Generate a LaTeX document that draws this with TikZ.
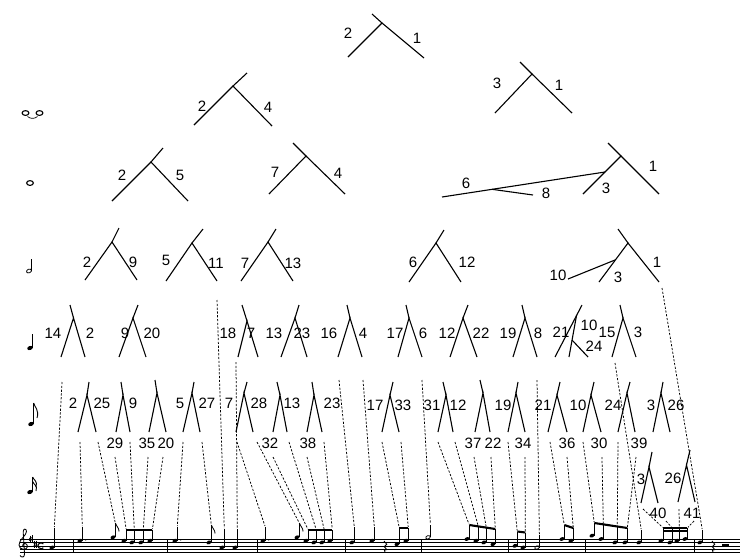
\documentclass[tikz,border=0pt]{standalone}
\usepackage{fontspec}
\setmainfont{Liberation Sans}
\usetikzlibrary{calc}
\newcounter{labc}
\tikzset{
  tl/.style={line width=1.1pt},
  dl/.style={line width=0.75pt, dash pattern=on 2.2pt off 1.6pt, shorten >=1pt},
  lb/.style={inner sep=0pt, font=\fontsize{15}{15}\selectfont},
  stm/.style={line width=0.65pt},
  bm/.style={line width=2.1pt},
  stf/.style={line width=0.6pt},
  icon/.style={line width=1.1pt},
}
\newcommand\mytree[5]{%
  \coordinate (#1j) at (#2); \coordinate (#1l) at (#3);
  \coordinate (#1r) at (#4); \coordinate (#1s) at (#5);
  \draw[tl] (#1l) -- (#1j) -- (#1r); \draw[tl] (#1j) -- (#1s);}
\newcommand\mylab[2]{\stepcounter{labc}\node[lb] (lab\arabic{labc}) at (#1) {#2};}
\newcommand\mynote[4]{%
  \pgfmathsetmacro\nyy{539+1.7*#3}%
  \fill[rotate around={22:(#2,\nyy)}] (#2,\nyy) ellipse (2.6pt and 1.8pt);
  \coordinate (#1) at (#2+2.3,#4);
  \draw[stm] (#2+2.3,\nyy) -- (#1);}
\newcommand\myhalf[4]{%
  \pgfmathsetmacro\nyy{539+1.7*#3}%
  \draw[line width=0.75pt, rotate around={22:(#2,\nyy)}] (#2,\nyy) ellipse (2.3pt and 1.6pt);
  \coordinate (#1) at (#2+2.4,#4);
  \draw[stm] (#2+2.4,\nyy) -- (#1);}
\newcommand\myflag[1]{\draw[line width=0.8pt] (#1) .. controls +(0.5,3) and +(0,-4) .. +(3.8,8.5);}
\newcommand\mydot[2]{\fill (#1+5.8,{539+1.7*#2-0.9}) circle (0.75pt);}
\newcommand\mydash[3]{\coordinate (#1) at (#2); \draw[dl] (#1) -- (#3);}
\newcommand\mysharp[2]{%
  \draw[line width=0.45pt] (#1-0.8,#2-3.4) -- (#1-0.8,#2+3.6) (#1+0.8,#2-3.6) -- (#1+0.8,#2+3.4);
  \draw[line width=0.9pt] (#1-1.8,#2-0.6) -- (#1+1.8,#2-1.4) (#1-1.8,#2+1.4) -- (#1+1.8,#2+0.6);}
\begin{document}
\begin{tikzpicture}[x=1pt,y=-1pt]
\useasboundingbox (0,0) rectangle (740,558);
\fill[white] (0,0) rectangle (740,558);

% ---------- trees ----------
% level 0
\mytree{ta}{382,23}{348,57}{424,58}{372,14}
% level 1
\mytree{tb}{233,86}{194,125}{272,126}{247,73}
\mytree{tc}{532,74}{495,113}{572,113}{520,62}
% level 2
\mytree{td}{151,162}{112,201}{188,201}{163,148}
\mytree{te}{306,156}{269,194}{345,194}{293,143}
\mytree{tf}{621,156}{583,194}{659,194}{608,143}
\coordinate (tfp) at (605,172); \coordinate (tfq) at (492,189.3);
\coordinate (tf6) at (442,197); \coordinate (tf8) at (533,195);
\draw[tl] (tfp) -- (tf6); \draw[tl] (tfq) -- (tf8);
% level 3
\mytree{tg}{112,242}{85,280}{137,280}{119,228}
\mytree{th}{192,243}{166,281}{217,281}{203,229}
\mytree{ti}{268,242}{241,281}{293,281}{276,229}
\mytree{tj}{436,243}{409,282}{461,282}{444,230}
\mytree{tk}{628,243}{599,282}{659,282}{618,229}
\coordinate (tkp) at (615,260); \coordinate (tk10) at (568,279);
\draw[tl] (tkp) -- (tk10);
% level 4 (quarter)
\mytree{q1}{73.5,318}{61,357}{85,357}{70,305}
\mytree{q2}{133,318}{119,357}{146,357}{138,305}
\mytree{q3}{247,321}{238,357}{258,357}{242,305}
\mytree{q4}{295,318}{281,357}{307,357}{299,305}
\mytree{q5}{350,318}{338,357}{362,357}{347,305}
\mytree{q6}{409,318}{398,357}{422,357}{406,305}
\mytree{q7}{463,318}{450,357}{477,357}{468,305}
\mytree{q8}{525,318}{513,357}{537,357}{522,305}
\coordinate (q9a) at (555,357); \coordinate (q9s) at (582,305);
\coordinate (q9b) at (569,357); \coordinate (q9j) at (576.6,315);
\coordinate (q9c) at (572,340); \coordinate (q9d) at (588,357);
\draw[tl] (q9a) -- (q9s); \draw[tl] (q9b) -- (q9j); \draw[tl] (q9c) -- (q9d);
\mytree{q10}{623,318}{612,357}{636,357}{620,305}
% level 5 (eighth)
\mytree{e1}{87,395}{78,432}{96,432}{89,382}
\mytree{e2}{123,395}{116,432}{130,432}{121,382}
\mytree{e3}{157,393}{149,432}{166,432}{155,380}
\mytree{e4}{192,393}{183,432}{200,432}{194,382}
\mytree{e5}{244,393}{236,432}{253,432}{247,382}
\mytree{e6}{280,395}{273,432}{287,432}{277,382}
\mytree{e7}{314,395}{307,432}{322,432}{312,382}
\mytree{e8}{390,395}{382,432}{399,432}{393,382}
\mytree{e9}{446,395}{438,432}{453,432}{443,382}
\mytree{e10}{483,393}{475,432}{490,432}{480,380}
\mytree{e11}{516,393}{508,432}{525,432}{518,382}
\mytree{e12}{557,395}{548,432}{567,432}{560,382}
\mytree{e13}{591,395}{583,432}{601,432}{594,382}
\mytree{e14}{627,393}{618,432}{635,432}{630,382}
\mytree{e15}{661,393}{653,432}{670,432}{663,382}
% level 6 (sixteenth)
\mytree{s1}{649,467}{641,503}{658,503}{652,452}
\mytree{s2}{686.5,465}{678,502}{695,502}{690,450}

% ---------- labels ----------
\mylab{348,33}{2} \mylab{417,38}{1}
\mylab{202,106}{2} \mylab{268,107}{4} \mylab{497,83}{3} \mylab{559,85}{1}
\mylab{122,175}{2} \mylab{180,175}{5} \mylab{275,172}{7} \mylab{338,173}{4}
\mylab{466,183}{6} \mylab{546,193}{8} \mylab{606,188}{3} \mylab{653,166}{1}
\mylab{87,262}{2} \mylab{133,262}{9} \mylab{166,260}{5} \mylab{216,263}{11}
\mylab{245,263}{7} \mylab{293,263}{13} \mylab{413,262}{6} \mylab{467,262}{12}
\mylab{558,275}{10} \mylab{618,277}{3} \mylab{657,262}{1}
\mylab{53,333}{14} \mylab{90,333}{2} \mylab{125,333}{9} \mylab{152,333}{20}
\mylab{228,333}{18} \mylab{251,333}{7} \mylab{274,333}{13} \mylab{302,333}{23}
\mylab{329,333}{16} \mylab{363,333}{4} \mylab{395,333}{17} \mylab{423,333}{6}
\mylab{447,333}{12} \mylab{481,333}{22} \mylab{508,333}{19} \mylab{538,333}{8}
\mylab{561,332}{21} \mylab{589,325}{10} \mylab{594,346}{24} \mylab{607,332}{15}
\mylab{638,332}{3}
\mylab{73,403}{2} \mylab{102,403}{25} \mylab{133,403}{9} \mylab{180,403}{5}
\mylab{207,403}{27} \mylab{229,403}{7} \mylab{259,403}{28} \mylab{292,403}{13}
\mylab{332,403}{23} \mylab{375,405}{17} \mylab{403,405}{33} \mylab{432,405}{31}
\mylab{458,405}{12} \mylab{503,405}{19} \mylab{543,405}{21} \mylab{578,405}{10}
\mylab{613,405}{24} \mylab{651,405}{3} \mylab{676,405}{26}
\mylab{115,443}{29} \mylab{147,443}{35} \mylab{166,443}{20} \mylab{270,443}{32}
\mylab{308,443}{38} \mylab{473,443}{37} \mylab{493,443}{22} \mylab{523,443}{34}
\mylab{567,443}{36} \mylab{599,443}{30} \mylab{639,443}{39}
\mylab{641,479}{3} \mylab{673,478}{26} \mylab{658,513}{40} \mylab{692,513}{41}

% ---------- duration icons ----------
\draw[icon] (25.5,113) ellipse (3.4pt and 2.4pt);
\draw[icon] (39.5,113) ellipse (3.4pt and 2.4pt);
\draw[line width=0.7pt] (27.5,116.5) .. controls (30.5,119) and (34.5,119) .. (37.5,116.5);
\draw[icon] (30,183) ellipse (3.4pt and 2.4pt);
\draw[line width=0.8pt, rotate around={22:(29,271)}] (29,271) ellipse (2.6pt and 1.8pt);
\draw[stm] (31.6,270.5) -- (31.6,259);
\fill[rotate around={22:(30,348)}] (30,348) ellipse (2.9pt and 2pt);
\draw[stm] (32.7,348) -- (32.7,334);
\fill[rotate around={22:(31,424)}] (31,424) ellipse (2.9pt and 2pt);
\draw[stm] (33.7,424) -- (33.7,403);
\draw[line width=0.9pt] (33.7,403) .. controls (34.5,407) and (39.5,410) .. (37,418);
\fill[rotate around={22:(30,492)}] (30,492) ellipse (2.9pt and 2pt);
\draw[stm] (32.7,492) -- (32.7,477);
\draw[line width=0.9pt] (32.7,477) .. controls (33.5,480) and (38,481) .. (36,487);
\draw[line width=0.9pt] (32.7,481.5) .. controls (33.5,484.5) and (38,485.5) .. (36,491);

% ---------- staff ----------
\foreach \k in {0,...,4} \draw[stf] (20,{539+3.4*\k}) -- (740,{539+3.4*\k});
\foreach \bx in {73,167,257,345,421,508,585,694} \draw[line width=0.9pt] (\bx,539) -- (\bx,552.6);
% clef
\draw[line width=0.85pt] (20,555.5) .. controls (21.5,558) and (25,557.5) .. (24.5,553.5) -- (23.2,532)
  .. controls (23,528.5) and (26.5,528) .. (26.5,531.5) .. controls (26.5,535.5) and (19,539.5) .. (19,545)
  .. controls (19,550.5) and (27.5,550.5) .. (27.5,546.5) .. controls (27.5,542.5) and (22,542.5) .. (22.5,546.5);
\mysharp{31}{539}
\mysharp{35.5}{544.1}
\draw[line width=1.1pt] (43.3,543.9) arc (40:320:3pt);

% ---------- notes ----------
\mynote{n1}{52}{5}{528}
\mynote{n2}{80}{1}{527} \mydot{80}{1}
\mynote{n3}{113}{-1}{523} \myflag{n3}
\mynote{n4}{124}{1}{530} \mynote{n5}{132}{2}{530} \mynote{n6}{141}{2}{530} \mynote{n7}{150}{1}{530}
\draw[bm] (n4) -- (n7);
\mynote{n8}{175}{1}{527} \mydot{175}{1}
\mynote{n9}{209}{2}{525} \myflag{n9}
\mynote{n10}{222}{5}{529}
\mynote{n11}{235}{5}{529}
\mynote{n12}{263}{1}{527} \mydot{263}{1}
\mynote{n13}{297}{-1}{523} \myflag{n13}
\mynote{n14}{306}{1}{530} \mynote{n15}{314}{2}{530} \mynote{n16}{322}{2}{530} \mynote{n17}{330}{1}{530}
\draw[bm] (n14) -- (n17);
\mynote{n18}{352}{2}{527}
\mynote{n19}{372}{1}{527}
\draw[line width=0.85pt] (384,541) -- (386.8,544.3) -- (384.2,546.6) -- (386.8,549.6) .. controls (384.3,548.6) and (383.3,550.8) .. (385.2,552.6);
\mynote{n20}{397}{3}{528} \mynote{n21}{406}{1}{528}
\draw[bm] (n20) -- (n21);
\myhalf{n22}{428}{-1}{525}
\mynote{n23}{467}{0}{525} \mynote{n24}{476}{1}{526.3} \mynote{n25}{484}{2}{527.6} \mynote{n26}{493}{3}{529}
\draw[bm] (n23) -- (n26);
\mynote{n27}{515}{4}{531.5} \mynote{n28}{523}{5}{532.5}
\draw[bm] (n27) -- (n28);
\myhalf{n29}{537}{5}{535}
\mynote{n30}{562}{0}{525} \mynote{n31}{571}{1}{528}
\draw[bm] (n30) -- (n31);
\mynote{n32}{592}{-2}{523} \mynote{n33}{601}{0}{524.5} \mynote{n34}{615}{2}{526.7} \mynote{n35}{625}{2}{528}
\draw[bm] (n32) -- (n35);
\mynote{n36}{639}{2}{530}
\mynote{n37}{661}{1}{528} \mynote{n38}{670}{2}{528} \mynote{n39}{677}{1}{528} \mynote{n40}{685}{0}{528}
\draw[bm] (n37) -- (n40);
\draw[bm] ($(n37)+(0,3)$) -- ($(n40)+(0,3)$);
\mynote{n41}{700}{2}{530}
\draw[line width=0.85pt] (712,541) -- (714.8,544.3) -- (712.2,546.6) -- (714.8,549.6) .. controls (712.3,548.6) and (711.3,550.8) .. (713.2,552.6);
\fill (722,544.2) rectangle (728.5,545.8);

% ---------- dashed connectors ----------
\mydash{d1}{62,382}{n1}
\mydash{d2}{80,442}{n2}
\mydash{d3}{98,442}{n3}
\mydash{d4}{115,457}{n4}
\mydash{d5}{130,442}{n5}
\mydash{d6}{148,457}{n6}
\mydash{d7}{163,457}{n7}
\mydash{d8}{183,442}{n8}
\mydash{d9}{202,442}{n9}
\mydash{d10}{217,300}{n10}
\mydash{d11}{236,362}{n11}
\mydash{d12}{237,442}{n12}
\mydash{d13}{257,442}{n13}
\mydash{d14}{273,457}{n14}
\mydash{d15}{289,442}{n15}
\mydash{d16}{307,457}{n16}
\mydash{d17}{324,442}{n17}
\mydash{d18}{339,380}{n18}
\mydash{d19}{363,380}{n19}
\mydash{d20}{382,442}{n20}
\mydash{d21}{401,442}{n21}
\mydash{d22}{422,380}{n22}
\mydash{d23}{438,442}{n23}
\mydash{d24}{455,442}{n24}
\mydash{d25}{474,457}{n25}
\mydash{d26}{491,457}{n26}
\mydash{d27}{508,442}{n27}
\mydash{d28}{525,457}{n28}
\mydash{d29}{537,380}{n29}
\mydash{d30}{550,442}{n30}
\mydash{d31}{567,457}{n31}
\mydash{d32}{583,442}{n32}
\mydash{d33}{602,457}{n33}
\mydash{d34}{618,442}{n34}
\mydash{d35}{636,457}{n35}
\mydash{d36}{615,363}{n36}
\mydash{d37}{643,509}{n37}
\mydash{d38}{666,521}{n38}
\mydash{d39}{679,509}{n39}
\mydash{d40}{694,521}{n40}
\mydash{d41}{662,288}{n41}
\end{tikzpicture}
\end{document}
